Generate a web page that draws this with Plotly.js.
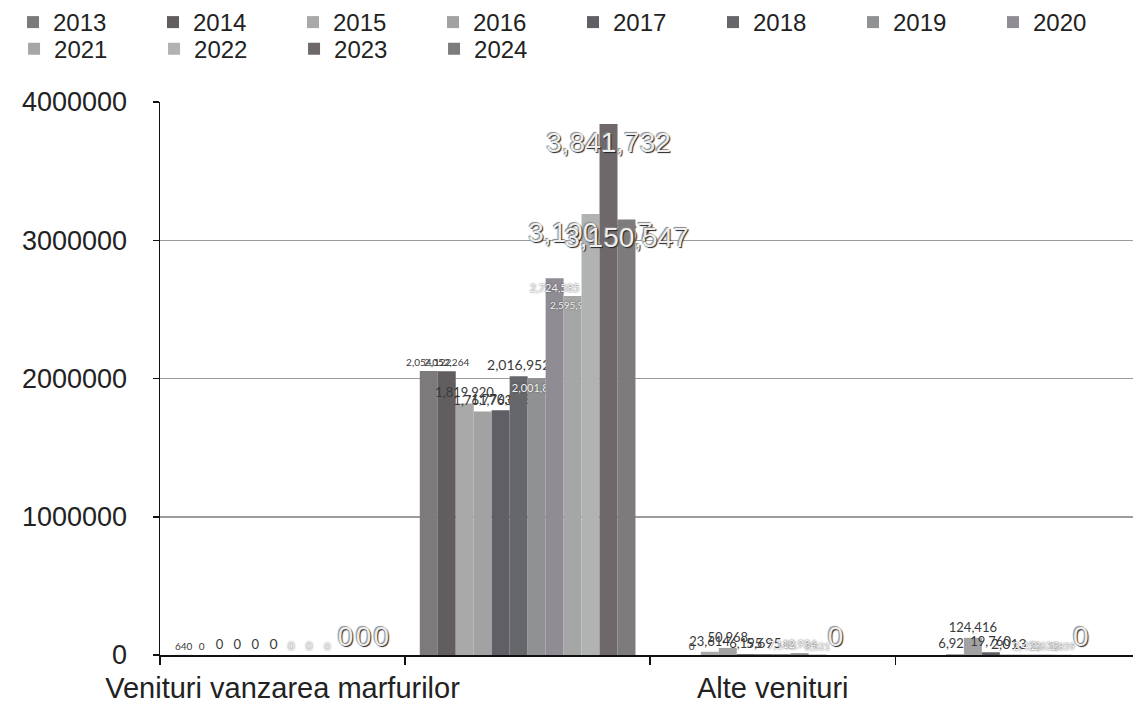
<!DOCTYPE html>
<html>
<head>
<meta charset="utf-8">
<script src="https://cdn.plot.ly/plotly-3.0.1.min.js"></script>
<style>
  html, body { margin: 0; padding: 0; background: #ffffff; }
  #chart { width: 1133px; height: 704px; }
</style>
</head>
<body>
<div id="chart"></div>
<script>
// ---- Data ----
const categories = [
  "Venituri vanzarea marfurilor",
  "Venituri din productia vanduta",
  "Alte venituri",
  "Venituri financiare"
];
const years = ["2013","2014","2015","2016","2017","2018","2019","2020","2021","2022","2023","2024"];

const v2013 = [640, 2054122, null, null];
const v2014 = [0, 2052264, 0, null];
const v2015 = [0, 1819920, 23614, 6929];
const v2016 = [0, 1761763, 50968, 124416];
const v2017 = [0, 1770822, 6195, 19760];
const v2018 = [0, 2016952, 5695, 2013];
const v2019 = [0, 2001819, 7140, 2453];
const v2020 = [0, 2724585, 12934, 2633];
const v2021 = [0, 2595993, 3521, 1859];
const v2022 = [0, 3190567, 0, 0];
const v2023 = [0, 3841732, null, null];
const v2024 = [0, 3150547, null, null];

const yTickVals = [0, 1000000, 2000000, 3000000, 4000000];

// ---- Styles ----
const seriesValues = [v2013, v2014, v2015, v2016, v2017, v2018, v2019, v2020, v2021, v2022, v2023, v2024];
const barColors = ["#7c7a7a","#625d5f","#a9a9a9","#a2a2a2","#5f5f65","#66676b",
                   "#909193","#8f8c94","#a5a7a7","#b1b2b2","#6e686a","#7d7b7b"];
// label style groups: 0 = small dark, 1 = small white-outlined, 2 = big white-outlined
const labelGroup = [0,0,0,0,0,0,1,1,1,2,2,2];
const labelSize = [10,10,13,13,13,14,11,11,10,28,28,28];
// legend row for each series
const legendRow = ["legend","legend","legend","legend","legend","legend","legend","legend",
                   "legend2","legend2","legend2","legend2"];

const catIndex = categories.map((c, i) => i);

const traces = years.map((yr, s) => {
  const vals = seriesValues[s];
  const g = labelGroup[s];
  let font;
  if (g === 0) {
    font = { family: "Lato, 'Liberation Sans', sans-serif", size: labelSize[s], color: "#3a3a3a" };
  } else if (g === 1) {
    font = { family: "Lato, 'Liberation Sans', sans-serif", size: labelSize[s], color: "#f2f2f2",
             shadow: "0px 0px 2px #444" };
  } else {
    font = { family: "'Liberation Sans', Arial, sans-serif", size: labelSize[s], color: "#eeeeee",
             shadow: "1px 1px 1px #222, -1px -1px 1px #888" };
  }
  const pos = vals.map(v => (g > 0 && v !== null && v >= 1000000) ? "inside" : "outside");
  return {
    type: "bar",
    name: yr,
    legend: legendRow[s],
    x: catIndex,
    y: vals,
    marker: { color: barColors[s] },
    text: vals.map(v => v === null ? "" : v.toLocaleString("en-US")),
    texttemplate: "%{text}",
    textposition: pos,
    insidetextanchor: "end",
    textangle: 0,
    constraintext: "none",
    textfont: font,
    cliponaxis: false,
    hoverinfo: "skip"
  };
});

const tickIdx = catIndex.filter(i => i % 2 === 0);

const legendBase = {
  orientation: "h",
  x: -0.15, xanchor: "left",
  yanchor: "top",
  entrywidth: 95, entrywidthmode: "pixels",
  traceorder: "normal",
  font: { family: "'Liberation Sans', Arial, sans-serif", size: 24, color: "#222222" },
  bgcolor: "rgba(0,0,0,0)",
  itemclick: false, itemdoubleclick: false
};

const layout = {
  width: 1133,
  height: 704,
  margin: { l: 160, r: 0, t: 101, b: 49, pad: 0 },
  paper_bgcolor: "#ffffff",
  plot_bgcolor: "#ffffff",
  barmode: "group",
  bargap: 0.12,
  bargroupgap: 0,
  showlegend: true,
  legend: Object.assign({}, legendBase, { y: 1.184 }),
  legend2: Object.assign({}, legendBase, { y: 1.134 }),
  xaxis: {
    type: "linear",
    range: [-0.5, 3.47],
    tickvals: tickIdx,
    ticktext: tickIdx.map(i => categories[i]),
    ticks: "",
    showgrid: false,
    zeroline: false,
    showline: true,
    linecolor: "#111111",
    linewidth: 2,
    ticklabelstandoff: 6,
    tickfont: { family: "'Liberation Sans', Arial, sans-serif", size: 29, color: "#222222" },
    minor: { tick0: -0.5, dtick: 1, ticks: "outside", ticklen: 8, tickwidth: 1.5, tickcolor: "#111111", showgrid: false },
    fixedrange: true
  },
  yaxis: {
    range: [0, 4000000],
    tickvals: yTickVals,
    tickformat: "d",
    ticks: "outside",
    ticklen: 6,
    tickwidth: 1.5,
    tickcolor: "#111111",
    showline: true,
    linecolor: "#111111",
    linewidth: 1.5,
    showgrid: true,
    gridcolor: "#9c9c9c",
    gridwidth: 1.5,
    zeroline: false,
    ticklabelstandoff: 20,
    tickfont: { family: "'Liberation Sans', Arial, sans-serif", size: 27, color: "#222222" },
    fixedrange: true
  }
};

Plotly.newPlot("chart", traces, layout, { staticPlot: true, displayModeBar: false });
</script>
</body>
</html>
